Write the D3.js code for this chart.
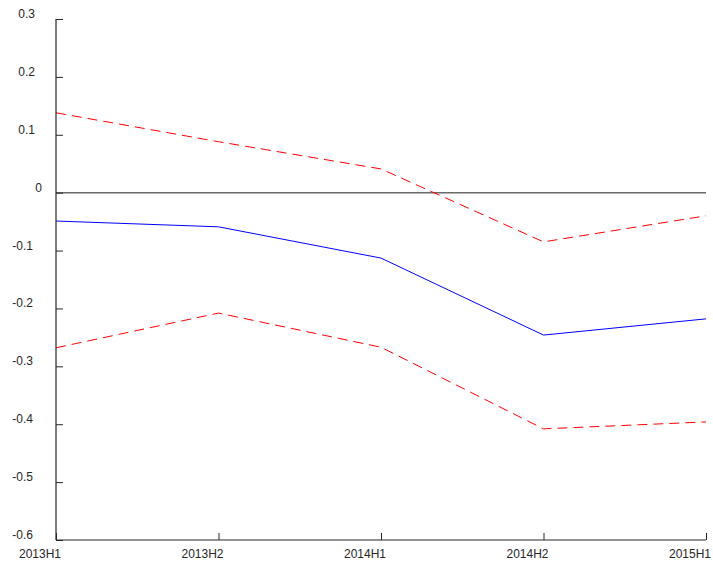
<!DOCTYPE html>
<html>
<head>
<meta charset="utf-8">
<script src="https://cdn.jsdelivr.net/npm/d3@7"></script>
<style>
  body { margin: 0; background: #fff; }
  text { font-family: "Liberation Sans", Arial, sans-serif; font-size: 12px; fill: #262626; }
</style>
</head>
<body>
<svg id="chart" width="713" height="564"></svg>
<script>
// data
var periods = ["2013H1", "2013H2", "2014H1", "2014H2", "2015H1"];
var estimate = [-0.049, -0.059, -0.113, -0.246, -0.218];
var upperBand = [0.138, 0.088, 0.041, -0.085, -0.040];
var lowerBand = [-0.268, -0.208, -0.267, -0.408, -0.396];
var yTicks = [0.3, 0.2, 0.1, 0, -0.1, -0.2, -0.3, -0.4, -0.5, -0.6];

var svg = d3.select("#chart");
// note: "top" is taken by window.top, so plot* names
var plotLeft = 56, plotRight = 706, plotTop = 19, plotBottom = 540;

var x = d3.scalePoint().domain(periods).range([plotLeft, plotRight]);
var y = d3.scaleLinear().domain([-0.6, 0.3]).range([plotBottom, plotTop]);

// zero line
svg.append("line")
  .attr("x1", plotLeft).attr("x2", plotRight)
  .attr("y1", y(0)).attr("y2", y(0))
  .attr("stroke", "#6b6b6b").attr("stroke-width", 1.5);

var line = d3.line()
  .x(function (d, i) { return x(periods[i]); })
  .y(function (d) { return y(d); });

svg.append("path").datum(upperBand)
  .attr("d", line).attr("fill", "none")
  .attr("stroke", "#ff0000").attr("stroke-width", 1)
  .attr("stroke-dasharray", "10,6");
svg.append("path").datum(lowerBand)
  .attr("d", line).attr("fill", "none")
  .attr("stroke", "#ff0000").attr("stroke-width", 1)
  .attr("stroke-dasharray", "10,6");
svg.append("path").datum(estimate)
  .attr("d", line).attr("fill", "none")
  .attr("stroke", "#0000ff").attr("stroke-width", 1);

// axes (ticks pointing inward)
var yAxis = svg.append("g").attr("transform", "translate(" + plotLeft + ",0)")
  .call(d3.axisRight(y).tickValues(yTicks).tickSize(7).tickFormat(""));
var xAxis = svg.append("g").attr("transform", "translate(0," + plotBottom + ")")
  .call(d3.axisTop(x).tickSize(7).tickFormat(""));
[yAxis, xAxis].forEach(function (g) {
  g.select(".domain").attr("stroke", "#262626").attr("stroke-width", 1.2);
  g.selectAll(".tick line").attr("stroke", "#262626");
});
// plain domain lines, no outer ticks
xAxis.select(".domain").attr("d", "M" + plotLeft + ",0H" + plotRight);
yAxis.select(".domain").attr("d", "M0," + plotTop + "V" + plotBottom);

svg.selectAll(".ylab").data(yTicks).enter().append("text")
  .attr("class", "ylab")
  .attr("x", function (d) { return d === 0 ? 42 : d < 0 ? 33 : 35; })
  .attr("y", function (d) { return y(d) - 1; })
  .attr("text-anchor", "end")
  .text(function (d) { return d === 0 ? "0" : d.toFixed(1); });

svg.selectAll(".xlab").data(periods).enter().append("text")
  .attr("class", "xlab")
  .attr("x", function (d) { return x(d) - 16; })
  .attr("y", 558)
  .attr("text-anchor", "middle")
  .text(function (d) { return d; });
</script>
</body>
</html>
